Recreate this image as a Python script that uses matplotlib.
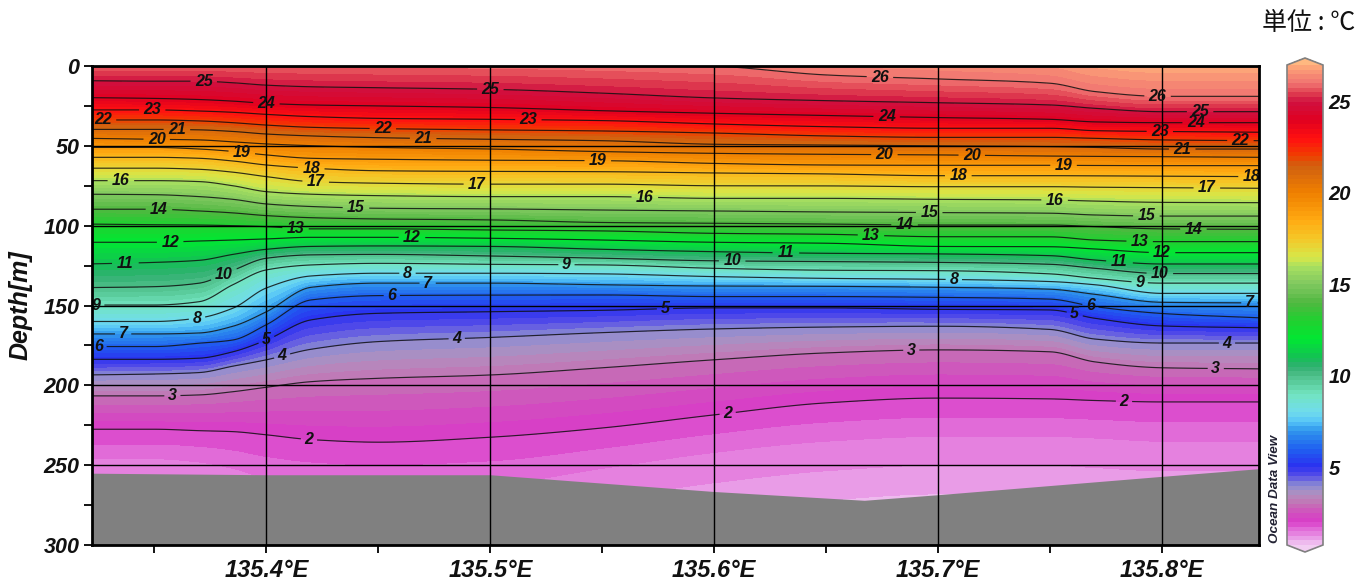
import numpy as np
import matplotlib
matplotlib.use("Agg")
import matplotlib.pyplot as plt
from matplotlib.colors import LinearSegmentedColormap, Normalize

# ---- data ----
lons = [135.32, 135.35, 135.37, 135.385, 135.40, 135.42, 135.45, 135.5, 135.55, 135.6,
        135.65, 135.7, 135.75, 135.77, 135.8, 135.845]
# depth (m) of each isotherm at the longitudes above
d28 = [-60] * 16
d27 = [-30, -30, -30, -30, -30, -30, -28, -26, -24, -22, -18, -14, -10, -4, -1, -1]
d26 = [-4, -4, -4, -4, -4, -4, -3.5, -3, -2, 0, 5.6, 8.1, 10.8, 16, 19, 19]
d25 = [9.2, 9.5, 9.5, 10.5, 12, 13, 13.6, 14.6, 17, 20, 21.7, 23, 24.4, 26.5, 28.6, 28.6]
d24 = [19.8, 20.3, 21, 22, 23.4, 24.4, 25, 26, 28, 29.6, 31, 32.3, 33.4, 35, 35.5, 35.5]
d23 = [27.5, 27.5, 28.2, 29, 30.3, 31.7, 32.8, 33.4, 34.2, 36.3, 38, 39, 39, 40.5, 41, 41.5]
d22 = [33.8, 33.8, 34.4, 35.5, 37, 38.4, 39.2, 40, 40.7, 42, 43.8, 44.7, 44.7, 45.3, 46.3, 46.8]
d21 = [39.7, 39.7, 40, 41, 42.6, 43.8, 44.9, 45.9, 46.8, 49, 49.5, 50, 50.5, 51, 52, 52]
d20 = [45.3, 45.9, 46.3, 47.5, 48.8, 49.9, 51, 52, 53.6, 54.7, 55.3, 55.7, 56.4, 56.6, 56.8, 57.2]
d19 = [51, 51, 52, 53.5, 55.7, 57.8, 58.4, 59, 59.3, 61, 62, 62.2, 62.2, 62.3, 62.4, 62.4]
d18 = [57.2, 57.2, 57.8, 59.5, 62, 64, 65.6, 66, 66.2, 67, 67.6, 68.7, 68.7, 68.8, 69, 69.3]
d17 = [64, 64, 64.7, 66.5, 69.3, 72.4, 73.4, 74, 74, 75, 75.1, 75.6, 75.6, 75.9, 76.2, 76.6]
d16 = [71.8, 71.8, 72.4, 75, 78.7, 80.3, 81.2, 81.8, 81.8, 82.9, 82.9, 83.5, 83.9, 84.6, 85.4, 85.6]
d15 = [80.3, 80.6, 81.8, 83.5, 86.4, 88, 89.1, 89.5, 90.2, 90.8, 91.4, 91.8, 92.2, 93.3, 94, 94]
d14 = [89.7, 89.7, 90.8, 92, 93.7, 95, 95.8, 96.4, 98, 98.5, 99, 99.6, 99.6, 100.6, 102, 102.3]
d13 = [99, 99.4, 99.6, 100, 100.6, 102, 102, 102.7, 103.3, 104.8, 105.4, 106.9, 107, 109, 110, 110]
d12 = [110.4, 110.4, 109.6, 109, 108.3, 107.3, 107.3, 107.9, 109, 110.4, 111, 113, 113.2, 114.6, 116.9, 116.9]
d11 = [124, 123, 121.7, 118, 114.8, 113, 112.7, 113, 114.8, 116.3, 117.3, 117.7, 118.8, 121.5, 124, 124]
d10 = [138.8, 138.2, 136, 128, 120.4, 118.3, 118, 119, 120.4, 122, 122.5, 123, 124.2, 126.7, 130, 130]
d9 = [149.7, 149.7, 147.6, 137, 127.7, 124.6, 123.6, 124.2, 124.6, 126.7, 127.9, 128.2, 130.2, 133, 136, 136]
d8 = [160, 160, 157.8, 151.7, 139, 131.5, 129.8, 129.8, 130.2, 131.9, 133, 133.6, 135, 137, 142.4, 142.4]
d7 = [167.8, 167.8, 167.2, 163, 153.9, 138.6, 136, 136, 137, 137.8, 138, 138.6, 139.8, 143, 148, 148.4]
d6 = [175.7, 175.7, 173.6, 171.6, 162, 146.5, 143.8, 143.5, 143.4, 144.4, 144.4, 144.9, 146, 150.7, 155, 157.8]
d5 = [183.7, 183.7, 183, 179, 171.6, 159, 154.9, 153.9, 153, 151.5, 151.5, 152.4, 152.8, 158, 162.8, 164]
d4 = [193.5, 192.9, 192, 188, 184, 177.4, 172.6, 170, 167, 164.7, 163.5, 163, 165, 171, 173.5, 173.5]
d3 = [206.6, 206.6, 206, 204, 201.2, 197.7, 195.6, 193.5, 189, 184, 179.7, 177.8, 179, 185.3, 189, 189.7]
d2 = [227.5, 227.5, 228.4, 229, 231, 234, 235.6, 232.5, 226.7, 218.5, 211, 208, 208.5, 209.5, 210.4, 210.4]
d1_5 = [246, 246, 248, 252, 258, 262, 264, 262, 252, 242, 235, 232, 232, 233, 235, 235]
d1 = [285, 285, 288, 292, 296, 298, 300, 298, 290, 280, 272, 268, 268, 270, 272, 272]
d0 = [400] * 16

temps = [28, 27, 26, 25, 24, 23, 22, 21, 20, 19, 18, 17, 16, 15, 14, 13, 12, 11, 10,
         9, 8, 7, 6, 5, 4, 3, 2, 1.5, 1, 0]
depth_rows = [d28, d27, d26, d25, d24, d23, d22, d21, d20, d19, d18, d17, d16, d15, d14,
              d13, d12, d11, d10, d9, d8, d7, d6, d5, d4, d3, d2, d1_5, d1, d0]

# sea bed
bed_lon = [135.32, 135.4, 135.5, 135.6, 135.667, 135.7, 135.8, 135.845]
bed_depth = [255, 256, 256, 266.5, 272, 268.5, 257, 252]

# where each isotherm carries its label
label_lons = {
    26: [135.674, 135.798], 25: [135.372, 135.5, 135.817], 24: [135.40, 135.677, 135.815],
    23: [135.349, 135.517, 135.799], 22: [135.327, 135.452, 135.835], 21: [135.36, 135.47, 135.809],
    20: [135.351, 135.676, 135.715], 19: [135.389, 135.548, 135.756], 18: [135.42, 135.709, 135.84],
    17: [135.422, 135.494, 135.82], 16: [135.335, 135.569, 135.752], 15: [135.44, 135.696, 135.793],
    14: [135.352, 135.685, 135.814], 13: [135.413, 135.67, 135.79], 12: [135.357, 135.465, 135.8],
    11: [135.337, 135.632, 135.781], 10: [135.381, 135.608, 135.799], 9: [135.324, 135.534, 135.79],
    8: [135.369, 135.463, 135.707], 7: [135.336, 135.472, 135.839], 6: [135.325, 135.456, 135.768],
    5: [135.40, 135.578, 135.761], 4: [135.407, 135.485, 135.829], 3: [135.358, 135.688, 135.824],
    2: [135.419, 135.606, 135.783],
}

x_tick_values = [135.4, 135.5, 135.6, 135.7, 135.8]
x_tick_labels = ["135.4°E", "135.5°E", "135.6°E", "135.7°E", "135.8°E"]
y_tick_values = [0, 50, 100, 150, 200, 250, 300]

# ---- colours of the colour bar ----
cmap_stops = [
    (0.7, "#F2CDF2"), (1.0, "#EBA8EA"), (1.5, "#E374DB"), (2.0, "#D83CC8"), (2.5, "#D150BE"),
    (3.0, "#C472B4"), (3.5, "#B090C0"), (4.0, "#8C8CD2"), (4.5, "#5A50E6"), (5.0, "#2A30F0"),
    (6.0, "#2060F0"), (7.0, "#3098EC"), (7.5, "#55C4F8"), (8.0, "#70DCEC"), (9.0, "#72E4C0"),
    (10.0, "#4DBE88"), (10.5, "#30B070"), (11.0, "#14C055"), (12.0, "#00E832"), (13.0, "#20D030"),
    (14.0, "#50B840"), (15.0, "#80C860"), (16.0, "#A8E060"), (16.5, "#D8E648"), (17.5, "#F4C828"),
    (18.5, "#FFAA12"), (20.0, "#F08000"), (21.5, "#D06010"), (22.0, "#F04000"), (23.0, "#FF1010"),
    (24.0, "#E00020"), (25.0, "#D01040"), (25.5, "#E04050"), (26.0, "#F07070"), (27.1, "#FFB07A"),
]
vmin, vmax = 0.7, 27.1
cmap = LinearSegmentedColormap.from_list(
    "odv", [((t - vmin) / (vmax - vmin), c) for t, c in cmap_stops], N=512)
cmap.set_under("#F2CDF2")
cmap.set_over("#FFB880")


def smooth_row(x, y, xf):
    """Shape-preserving cubic through the values that were read (drawing only)."""
    x, y = np.asarray(x, float), np.asarray(y, float)
    h = np.diff(x)
    s = np.diff(y) / h
    m = np.zeros_like(y)
    for i in range(1, len(y) - 1):
        if s[i - 1] * s[i] > 0:
            w1, w2 = 2 * h[i] + h[i - 1], h[i] + 2 * h[i - 1]
            m[i] = (w1 + w2) / (w1 / s[i - 1] + w2 / s[i])
    m[0], m[-1] = s[0], s[-1]
    k = np.clip(np.searchsorted(x, xf) - 1, 0, len(h) - 1)
    t = (xf - x[k]) / h[k]
    return ((2 * t**3 - 3 * t**2 + 1) * y[k] + (t**3 - 2 * t**2 + t) * h[k] * m[k]
            + (-2 * t**3 + 3 * t**2) * y[k + 1] + (t**3 - t**2) * h[k] * m[k + 1])


# ---- figure ----
W, H = 1371, 586
fig = plt.figure(figsize=(W / 100, H / 100), dpi=100, facecolor="white")
ax = fig.add_axes([92 / W, 1 - 545 / H, (1259 - 92) / W, (545 - 66) / H])

font = dict(family=["Liberation Sans", "DejaVu Sans"], fontweight="bold", fontstyle="italic")

lon_fine = np.linspace(lons[0], lons[-1], 526)
Y = np.array([smooth_row(lons, r, lon_fine) for r in depth_rows])
X = np.tile(lon_fine, (Y.shape[0], 1))
Z = np.tile(np.array(temps, dtype=float)[:, None], (1, Y.shape[1]))

fill_levels = np.arange(0.75, 27.01, 0.25)
norm = Normalize(vmin, vmax)
cf = ax.contourf(X, Y, Z, levels=fill_levels, cmap=cmap, norm=norm, extend="both", antialiased=False)
line_levels = list(range(2, 27))
cs = ax.contour(X, Y, Z, levels=line_levels, colors="#101010", linewidths=0.85, alpha=0.85)

positions = []
for t, ls in label_lons.items():
    row = Y[temps.index(t)]
    positions += [(x, float(np.interp(x, lon_fine, row))) for x in ls]
labels = ax.clabel(cs, fmt="%d", fontsize=11.5, inline=True, inline_spacing=3, manual=positions)
for tx in labels:
    tx.set_rotation(0)
    tx.set(color="#111111", **font)

ax.fill_between(bed_lon, bed_depth, 300, color="#808080", lw=0, zorder=2.2)

ax.set_xlim(135.3221, 135.8433)
ax.set_ylim(300, 0)
ax.set_xticks(x_tick_values)
ax.set_xticklabels(x_tick_labels, fontsize=17, color="#111111", **font)
ax.set_xticks([135.35, 135.45, 135.55, 135.65, 135.75], minor=True)
ax.set_yticks(y_tick_values)
ax.set_yticklabels([str(v) for v in y_tick_values], fontsize=15.5, color="#111111", **font)
ax.set_yticks([25, 75, 125, 175, 225, 275], minor=True)
ax.tick_params(which="both", direction="out", length=6, width=1.3, color="black", pad=3)
ax.tick_params(axis="x", which="major", pad=4)
ax.grid(True, which="major", color="black", lw=1.0)
ax.set_axisbelow(False)
for s in ax.spines.values():
    s.set_linewidth(2)
    s.set_zorder(6)
ax.set_ylabel("Depth[m]", fontsize=18, color="#111111", labelpad=8, **font)

# colour bar
cax = fig.add_axes([1287 / W, 1 - 552 / H, (1323 - 1287) / W, (552 - 58) / H])
cb = fig.colorbar(cf, cax=cax, extend="both", extendfrac=7 / 480, ticks=[5, 10, 15, 20, 25], drawedges=False)
cb.outline.set_edgecolor("#808080")
cb.outline.set_linewidth(1.2)
cb.ax.tick_params(length=0, pad=4)
for lab in cb.ax.get_yticklabels():
    lab.set(fontsize=14.5, color="#111111", **font)

fig.text(1275 / W, 1 - 489 / H, "Ocean Data View", rotation=90, ha="center", va="center",
         fontsize=9.7, color="#222233", **font)
fig.text(1355 / W, 1 - 23 / H, "単位 : ℃", ha="right", va="center", fontsize=18, color="#111111",
         family=["Noto Sans CJK JP", "DejaVu Sans"])

fig.savefig("out.png", dpi=100, facecolor="white")
